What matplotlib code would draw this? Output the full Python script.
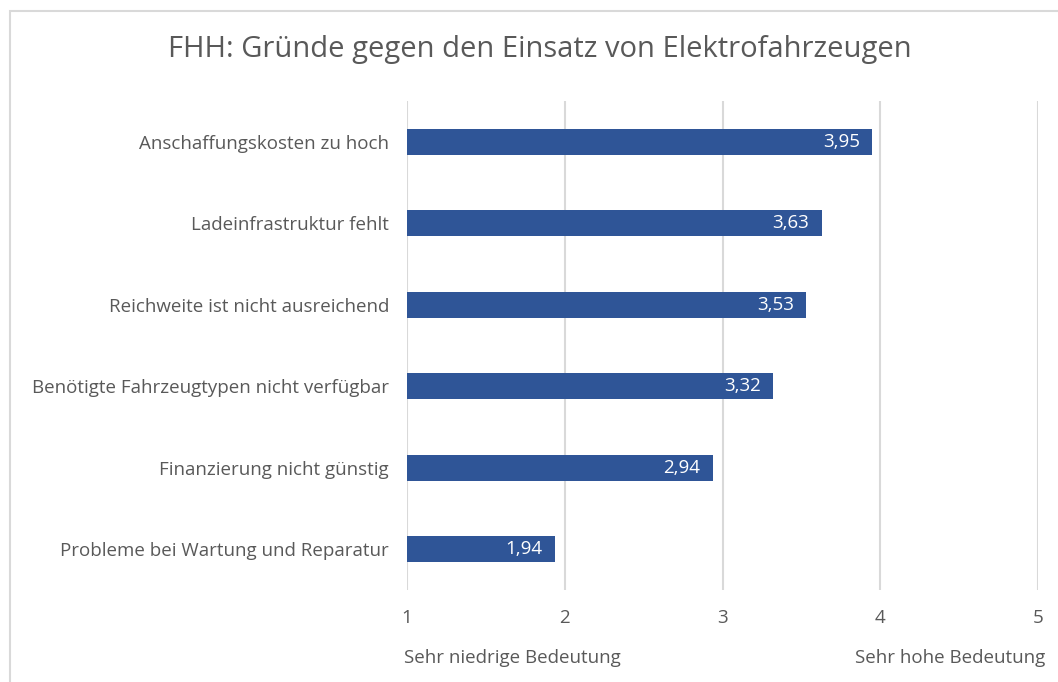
import matplotlib.pyplot as plt
import matplotlib.patches as patches

plt.rcParams['font.family'] = ['Open Sans', 'DejaVu Sans']

reasons = [
    'Anschaffungskosten zu hoch',
    'Ladeinfrastruktur fehlt',
    'Reichweite ist nicht ausreichend',
    'Benötigte Fahrzeugtypen nicht verfügbar',
    'Finanzierung nicht günstig',
    'Probleme bei Wartung und Reparatur',
]
scores = [3.95, 3.63, 3.53, 3.32, 2.94, 1.94]
ticks = [1, 2, 3, 4, 5]

bar_color = '#2F5597'
text_color = '#595959'
grid_color = '#D9D9D9'

fig = plt.figure(figsize=(10.58, 6.82), dpi=100)
fig.patches.append(patches.Rectangle((10 / 1058, -0.1), 1.2, 1 - 11 / 682 + 0.1,
                                     transform=fig.transFigure, fill=False,
                                     edgecolor='#D9D9D9', linewidth=1.5))

ax = fig.add_axes([407 / 1058, 1 - 590 / 682, 631 / 1058, 489 / 682])
y = list(range(len(reasons)))
ax.barh(y, [s - 1 for s in scores], left=1, height=0.32, color=bar_color, zorder=3)
for yi, s in zip(y, scores):
    ax.annotate(f'{s:.2f}'.replace('.', ','), (s, yi), xytext=(-9, 0),
                textcoords='offset points', color='white',
                ha='right', va='center', fontsize=13.5, zorder=4)

ax.set_xlim(1, 5)
ax.set_ylim(len(reasons) - 0.5, -0.5)
ax.set_yticks(y)
ax.set_yticklabels(reasons, fontsize=13.5, color=text_color)
ax.set_xticks(ticks)
ax.set_xticklabels([str(t) for t in ticks], fontsize=13.5, color=text_color)
ax.tick_params(length=0)
ax.tick_params(axis='y', pad=13)
ax.tick_params(axis='x', pad=14)
ax.grid(axis='x', color=grid_color, linewidth=1.5, zorder=0)
for sp in ax.spines.values():
    sp.set_visible(False)

fig.text(540 / 1058, 1 - 50 / 682, 'FHH: Gründe gegen den Einsatz von Elektrofahrzeugen',
         ha='center', va='center', fontsize=21, color=text_color)
fig.text(404 / 1058, 1 - 658 / 682, 'Sehr niedrige Bedeutung', ha='left', va='center',
         fontsize=13.5, color=text_color)
fig.text(1045 / 1058, 1 - 658 / 682, 'Sehr hohe Bedeutung', ha='right', va='center',
         fontsize=13.5, color=text_color)

fig.savefig('out.png', dpi=100)
